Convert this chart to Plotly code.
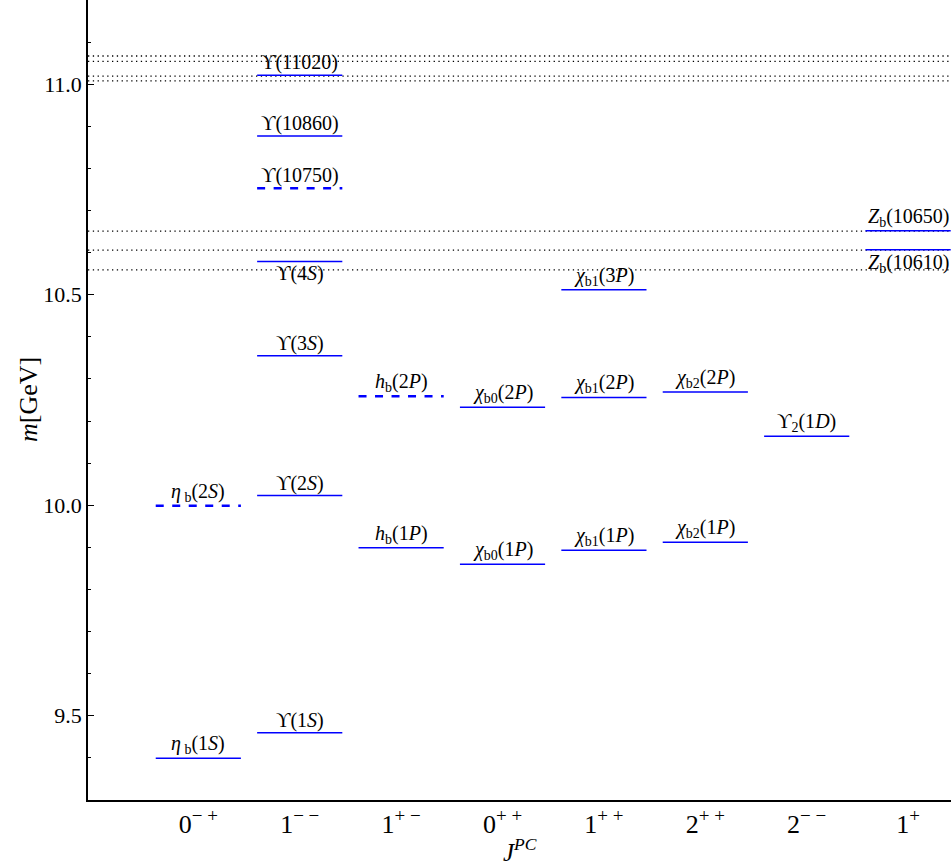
import plotly.graph_objects as go

# J^PC categories (x axis)
SUP = "<sup><span style='font-size:19px'>{}</span></sup>"
jpc_labels = ["0" + SUP.format("− +"), "1" + SUP.format("− −"), "1" + SUP.format("+ −"),
              "0" + SUP.format("+ +"), "1" + SUP.format("+ +"), "2" + SUP.format("+ +"),
              "2" + SUP.format("− −"), "1" + SUP.format("+")]

# states: label, J^PC index, mass [GeV]
state_names = [
    "<i>η</i><sub> b</sub>(1<i>S</i>)", "<i>η</i><sub> b</sub>(2<i>S</i>)",
    "ϒ(1<i>S</i>)", "ϒ(2<i>S</i>)", "ϒ(3<i>S</i>)", "ϒ(4<i>S</i>)",
    "ϒ(10750)", "ϒ(10860)", "ϒ(11020)",
    "<i>h</i><sub>b</sub>(1<i>P</i>)", "<i>h</i><sub>b</sub>(2<i>P</i>)",
    "<i>χ</i><sub>b0</sub>(1<i>P</i>)", "<i>χ</i><sub>b0</sub>(2<i>P</i>)",
    "<i>χ</i><sub>b1</sub>(1<i>P</i>)", "<i>χ</i><sub>b1</sub>(2<i>P</i>)", "<i>χ</i><sub>b1</sub>(3<i>P</i>)",
    "<i>χ</i><sub>b2</sub>(1<i>P</i>)", "<i>χ</i><sub>b2</sub>(2<i>P</i>)",
    "ϒ<sub>2</sub>(1<i>D</i>)",
    "<i>Z</i><sub>b</sub>(10610)", "<i>Z</i><sub>b</sub>(10650)",
]
state_jpc = [0, 0,
             1, 1, 1, 1, 1, 1, 1,
             2, 2,
             3, 3,
             4, 4, 4,
             5, 5,
             6,
             7, 7]
state_mass = [9.399, 9.999,
              9.460, 10.023, 10.355, 10.579, 10.753, 10.877, 11.021,
              9.899, 10.259,
              9.860, 10.233,
              9.893, 10.256, 10.512,
              9.912, 10.269,
              10.164,
              10.607, 10.652]
# unconfirmed states (drawn dashed)
tentative = ["<i>η</i><sub> b</sub>(2<i>S</i>)", "ϒ(10750)", "<i>h</i><sub>b</sub>(2<i>P</i>)"]
# labels placed below their level
label_below = ["ϒ(4<i>S</i>)", "<i>Z</i><sub>b</sub>(10610)"]

# open-bottom thresholds [GeV]
thresholds = [10.559, 10.606, 10.651, 11.008, 11.019, 11.054, 11.067]

x_range = [-1.088, 7.423]
y_range = [9.3, 11.2]
half_w = 0.42
FONT = "Liberation Serif"

fig = go.Figure()

for t in thresholds:
    fig.add_trace(go.Scatter(x=x_range, y=[t, t], mode="lines",
                             line=dict(color="black", width=1.3, dash="1.3px,3.5px"),
                             showlegend=False, hoverinfo="skip"))

annotations = []
for name, j, m in zip(state_names, state_jpc, state_mass):
    dashed = name in tentative
    fig.add_trace(go.Scatter(
        x=[j - half_w, j + half_w], y=[m, m], mode="lines",
        line=dict(color="#0000ff", width=2.6 if dashed else 1.5,
                  dash="8px,8.5px" if dashed else "solid"),
        showlegend=False, hoverinfo="skip"))
    below = name in label_below
    annotations.append(dict(
        x=j, y=m, xref="x", yref="y", text=name, showarrow=False,
        yanchor="top" if below else "bottom", xanchor="center",
        yshift=1 if below else -1,
        font=dict(family=FONT, size=20, color="black")))

# axis titles
annotations.append(dict(x=0.5, y=-0.0625, xref="paper", yref="paper",
                        text="<i>J</i><sup><i>PC</i></sup>", showarrow=False,
                        xanchor="center", yanchor="middle",
                        font=dict(family=FONT, size=25, color="black")))
annotations.append(dict(x=-0.0695, y=0.5, xref="paper", yref="paper",
                        text="<i>m</i>[GeV]", showarrow=False, textangle=-90,
                        xanchor="center", yanchor="middle",
                        font=dict(family=FONT, size=26, color="black")))

fig.update_layout(
    width=951, height=868,
    margin=dict(l=88, r=0, t=0, b=68),
    paper_bgcolor="white", plot_bgcolor="white",
    annotations=annotations,
    xaxis=dict(range=x_range, tickmode="array", tickvals=list(range(len(jpc_labels))),
               ticktext=jpc_labels, ticks="", showgrid=False, zeroline=False,
               showline=True, linecolor="black", linewidth=1.5, automargin=False,
               tickfont=dict(family=FONT, size=26, color="black")),
    yaxis=dict(range=y_range, tickmode="array", tickvals=[9.5, 10.0, 10.5, 11.0],
               ticktext=["9.5", "10.0", "10.5", "11.0"], ticks="inside", ticklen=6,
               tickwidth=1, tickcolor="black", showgrid=False, zeroline=False,
               showline=True, linecolor="black", linewidth=1.5, automargin=False,
               minor=dict(dtick=0.1, tick0=9.3, ticks="inside", ticklen=3,
                          tickcolor="black", tickwidth=1, showgrid=False),
               tickfont=dict(family=FONT, size=22, color="black")),
)

fig.write_html("out.html", config={"displayModeBar": False},
               post_script="document.body.style.margin='0';")
